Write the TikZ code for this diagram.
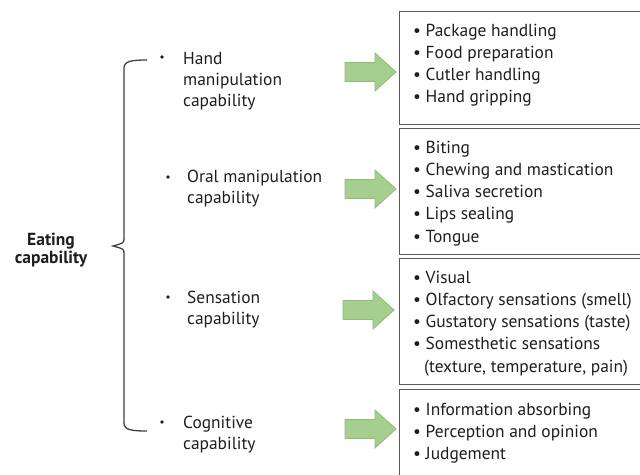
\documentclass[tikz,border=0pt]{standalone}
\usepackage{fontspec}
\setmainfont{PT Sans}
\definecolor{txt}{HTML}{1E1E1E}
\definecolor{arrfill}{HTML}{A6CF8F}
\definecolor{arrline}{HTML}{8DBE78}
\definecolor{boxline}{HTML}{5A5A5A}
\begin{document}
\begin{tikzpicture}[x=1pt,y=-1pt,
  box/.style={draw=boxline, line width=1.3pt, anchor=north west, inner sep=0pt},
  item/.style={anchor=base west, inner sep=0pt, text=txt, font=\fontsize{17.4}{20}\selectfont},
  lab/.style={anchor=base west, inner sep=0pt, text=txt, font=\fontsize{17.4}{20}\selectfont},
  head/.style={anchor=base, inner sep=0pt, text=txt, font=\fontsize{17.5}{19}\selectfont\bfseries},
  dot/.style={circle, fill=txt, inner sep=0pt, minimum size=3.6pt},
  brace/.style={draw=txt!85, line width=1.3pt},
  garrow/.pic={\path[fill=arrfill, draw=arrline, line width=0.8pt]
     (0,-9.5) -- (30,-9.5) -- (30,-19) -- (51,0) -- (30,19) -- (30,9.5) -- (0,9.5) -- cycle;}
]
\clip (0,0) rectangle (640,474);
\fill[white] (0,0) rectangle (640,474);

% boxes
\node[box, minimum width=260pt, minimum height=113pt] (box1) at (399,11) {};
\node[box, minimum width=260pt, minimum height=126pt] (box2) at (399,128) {};
\node[box, minimum width=260pt, minimum height=126pt] (box3) at (399,258) {};
\node[box, minimum width=260pt, minimum height=110pt] (box4) at (399,389) {};

% box items
\foreach \t [count=\i] in {Package handling, Food preparation, Cutler handling, Hand gripping}
  \node[item] (ia\i) at (413, {36+22.3*(\i-1)}) {\textbullet\ \t};
\foreach \t [count=\i] in {Biting, Chewing and mastication, Saliva secretion, Lips sealing, Tongue}
  \node[item] (ib\i) at (413, {153+22.3*(\i-1)}) {\textbullet\ \t};
\foreach \t [count=\i] in {Visual, Olfactory sensations (smell), Gustatory sensations (taste), Somesthetic sensations}
  \node[item] (ic\i) at (413, {283+22.3*(\i-1)}) {\textbullet\ \t};
\node[item] (ic5) at (424, 372) {(texture, temperature, pain)};
\foreach \t [count=\i] in {Information absorbing, Perception and opinion, Judgement}
  \node[item] (id\i) at (413, {415+22.3*(\i-1)}) {\textbullet\ \t};

% arrows
\pic at (345,72) {garrow};
\pic at (345,189) {garrow};
\pic at (343,310) {garrow};
\pic at (345,429) {garrow};

% left labels
\node[dot] (d1) at (162,57) {};
\node[lab] (la1) at (183,64) {Hand};
\node[lab] (la2) at (183,85) {manipulation};
\node[lab] (la3) at (183,106) {capability};

\node[dot] (d2) at (168,177) {};
\node[lab] (lb1) at (187,182) {Oral manipulation};
\node[lab] (lb2) at (187,203) {capability};

\node[dot] (d3) at (168,297) {};
\node[lab] (lc1) at (187,303) {Sensation};
\node[lab] (lc2) at (187,324) {capability};

\node[dot] (d4) at (162,422) {};
\node[lab] (ld1) at (183,428) {Cognitive};
\node[lab] (ld2) at (183,449) {capability};

% brace
\draw[brace] (147,60) .. controls (132,60) and (124,61) .. (124,68) -- (124,238)
  .. controls (124,243) .. (113,246) .. controls (124,249) .. (124,254) -- (124,423)
  .. controls (124,430) and (132,431) .. (147,431);

% heading
\node[head] (e1) at (51,245) {Eating};
\node[head] (e2) at (51,263) {capability};
\end{tikzpicture}
\end{document}
